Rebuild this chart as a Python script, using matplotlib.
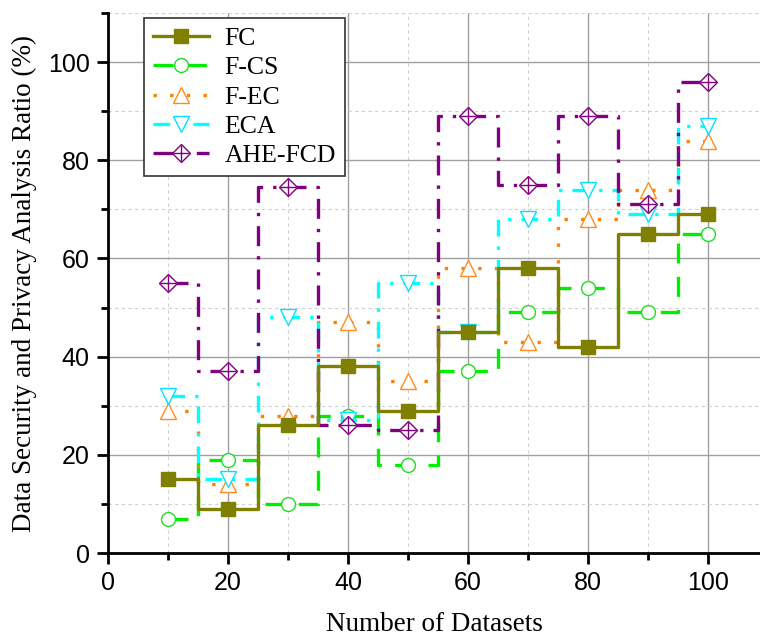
import matplotlib
matplotlib.use("Agg")
import matplotlib.pyplot as plt
from matplotlib.ticker import MultipleLocator
from matplotlib.legend_handler import HandlerTuple
from matplotlib.lines import Line2D

datasets = [10, 20, 30, 40, 50, 60, 70, 80, 90, 100]
fc = [15, 9, 26, 38, 29, 45, 58, 42, 65, 69]
f_cs = [7, 19, 10, 28, 18, 37, 49, 54, 49, 65]
f_ec = [29, 14, 28, 47, 35, 58, 43, 68, 74, 84]
eca = [32, 15, 48, 27, 55, 45, 68, 74, 69, 87]
ahe_fcd = [55, 37, 74.5, 26, 25, 89, 75, 89, 71, 96]

fig = plt.figure(figsize=(7.6, 6.36), dpi=100)
ax = fig.add_axes([0.142, 0.1305, 0.858, 0.849])

serif = "Liberation Serif"
sans = "Liberation Sans"

lw = 2.4
ms = 10
h_fc, = ax.plot(datasets, fc, drawstyle="steps-mid", color="#808000", lw=lw,
                marker="s", ms=ms, mfc="#808000", mec="#808000", label="FC", zorder=5)
h_cs, = ax.plot(datasets, f_cs, drawstyle="steps-mid", color="#00ee00", lw=lw,
                dashes=(6, 4), marker="o", ms=ms, mfc="white", mec="#22dd22", mew=1.0,
                label="F-CS", zorder=4)
h_ec, = ax.plot(datasets, f_ec, drawstyle="steps-mid", color="#ff8000", lw=lw,
                dashes=(1, 4), marker="^", ms=ms + 1, mfc="white", mec="#ff8c1a", mew=1.0,
                label="F-EC", zorder=4)
h_eca, = ax.plot(datasets, eca, drawstyle="steps-mid", color="#00ffff", lw=lw,
                 dashes=(5, 3, 1, 3), marker="v", ms=ms + 1, mfc="white", mec="#00e5ff", mew=1.0,
                 label="ECA", zorder=4)
h_ahe, = ax.plot(datasets, ahe_fcd, drawstyle="steps-mid", color="#800080", lw=lw,
                 dashes=(6, 3, 1, 3), marker="D", ms=ms - 1, mfc="white", mec="#800080", mew=1.0,
                 label="AHE-FCD", zorder=4)
ax.plot(datasets, ahe_fcd, ls="none", marker="+", ms=ms + 1, mec="#800080", mew=1.0, zorder=4)

plus = Line2D([], [], ls="none", marker="+", ms=ms + 1, mec="#800080", mew=1.0)

ax.set_xlim(0, 108.7)
ax.set_ylim(0, 110)
ax.xaxis.set_major_locator(MultipleLocator(20))
ax.xaxis.set_minor_locator(MultipleLocator(10))
ax.yaxis.set_major_locator(MultipleLocator(20))
ax.yaxis.set_minor_locator(MultipleLocator(10))
ax.grid(which="major", color="#a0a0a0", lw=1.0, ls="-")
ax.grid(which="minor", color="#d0d0d0", lw=0.8, ls=(0, (3, 3)))
ax.set_axisbelow(True)

for s in ["top", "right"]:
    ax.spines[s].set_visible(False)
for s in ["left", "bottom"]:
    ax.spines[s].set_linewidth(2.0)

ax.tick_params(which="major", direction="out", length=8, width=2, labelsize=18, pad=5)
ax.tick_params(which="minor", direction="out", length=5, width=2)
for lab in ax.get_xticklabels() + ax.get_yticklabels():
    lab.set_fontfamily(sans)

ax.set_xlabel("Number of Datasets", fontfamily=serif, fontsize=19.5, labelpad=12)
ax.set_ylabel("Data Security and Privacy Analysis Ratio (%)", fontfamily=serif, fontsize=19.5, labelpad=8)

leg = ax.legend([h_fc, h_cs, h_ec, h_eca, (h_ahe, plus)],
                ["FC", "F-CS", "F-EC", "ECA", "AHE-FCD"],
                handler_map={tuple: HandlerTuple(ndivide=1)},
                loc="upper left", bbox_to_anchor=(0.035, 1.015),
                prop={"family": serif, "size": 18.5}, fancybox=False, framealpha=1,
                edgecolor="#333333", handlelength=2.2, handletextpad=0.6,
                labelspacing=0.25, borderpad=0.35)
leg.get_frame().set_linewidth(1.2)

fig.savefig("out.png", dpi=100)
